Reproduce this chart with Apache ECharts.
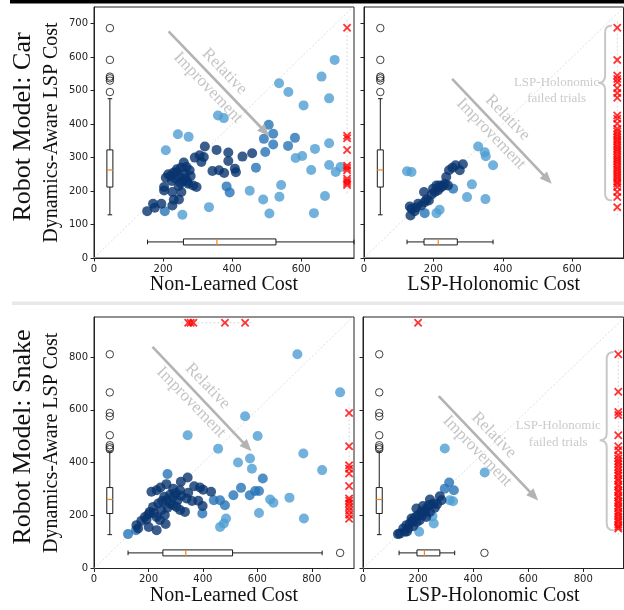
<!DOCTYPE html>
<html>
<head>
<meta charset="utf-8">
<script src="https://cdn.jsdelivr.net/npm/echarts@6/dist/echarts.min.js"></script>
<style>html,body{margin:0;padding:0;background:#fff}#main{width:624px;height:610px}</style>
</head>
<body>
<div id="main"></div>
<script>
// tick labels
const carYTicks = [0, 100, 200, 300, 400, 500, 600, 700];
const carXTicks = [0, 200, 400, 600];
const snakeTicks = [0, 200, 400, 600, 800];

// Car, x = non-learned cost, y = dynamics-aware LSP cost
const carNlDark = [[154,140],[171,162],[176,150],[195,162],[227,157],[231,174],[246,175],[227,197],[253,197],[203,202],[203,212],[208,240],[222,245],[230,255],[239,257],[248,242],[258,232],[268,272],[277,262],[263,252],[273,222],[287,217],[297,212],[292,300],[306,307],[318,302],[311,287],[321,333],[355,323],[343,260],[362,262],[377,254],[389,315],[389,290],[408,267],[411,256],[430,303],[458,313],[240,265],[252,270],[260,285],[235,238],[265,238],[280,245],[250,225],[245,215],[225,230],[215,250],[270,228]];
const carNlMid = [[205,140],[384,214],[393,196],[469,270],[492,356],[519,339],[496,317],[562,335],[582,359],[506,398],[519,371]];
const carNlLight = [[697,592],[659,542],[536,522],[563,496],[681,477],[607,456],[359,426],[376,418],[243,370],[274,362],[208,322],[584,299],[603,305],[640,326],[681,343],[629,263],[681,278],[714,272],[700,257],[542,218],[451,201],[490,175],[537,183],[669,185],[508,133],[637,134],[333,152],[256,129]];
const carNlFailed = [688, 365, 358, 323, 276, 269, 262, 237, 230, 224, 218];

// Car, x = LSP-holonomic cost
const carHoDark = [[134,127],[137,147],[146,140],[156,162],[165,157],[175,167],[187,172],[173,197],[199,207],[209,217],[218,217],[204,197],[213,202],[233,222],[242,217],[237,242],[245,262],[264,277],[276,262],[285,280],[132,154],[220,210],[228,215],[195,190],[180,175],[150,150],[255,270]];
const carHoMid = [[257,207],[175,134]];
const carHoLight = [[124,259],[137,257],[329,333],[348,316],[351,304],[372,277],[311,220],[297,182],[350,176],[209,134],[218,144]];
const carHoFailed = [688,592,545,535,525,507,493,479,426,416,401,386,378,370,362,355,348,340,332,325,318,310,302,295,288,280,272,265,258,250,243,236,228,222,212,197,182,152];

// box stats [low, q1, median, q3, high]
const carLspBox = [129, 212, 263, 323, 476];
const carLspOutliers = [687, 592, 542, 537, 530, 496];
const carNlBox = [155, 259, 356, 527, 753];
const carHoBox = [124, 173, 214, 269, 372];

// Snake, x = non-learned cost
const snakeNlDark = [[319,328],[344,344],[266,319],[244,306],[211,290],[230,296],[291,302],[316,296],[346,286],[368,311],[389,306],[401,298],[430,290],[383,256],[399,236],[334,214],[258,271],[266,258],[279,246],[291,271],[307,258],[303,233],[316,221],[236,246],[217,233],[205,214],[187,195],[248,221],[260,202],[230,195],[242,183],[193,185],[174,180],[156,164],[162,151],[201,157],[230,145],[263,168],[280,280],[300,285],[320,275],[340,265],[270,230],[290,240],[250,255],[220,210],[200,205],[360,255]];
const snakeNlMid = [[125,130],[154,145],[440,258],[463,258],[481,239],[398,208],[512,277],[540,305],[572,277],[592,293],[606,293],[620,340],[270,357]];
const snakeNlLight = [[747,810],[904,666],[555,576],[344,504],[601,501],[456,453],[573,416],[529,401],[580,377],[769,435],[838,372],[647,261],[659,249],[718,268],[771,189],[606,210],[463,157],[477,170],[485,189]];
const snakeNlFailedRight = [588, 462, 390, 377, 359, 312, 265, 256, 246, 232, 218, 203, 188];
const snakeNlFailedTop = [346, 355, 365, 481, 555];

// Snake, x = LSP-holonomic cost
const snakeHoDark = [[279,273],[285,258],[243,261],[255,246],[269,243],[218,236],[230,227],[212,214],[200,202],[188,193],[206,183],[176,189],[170,170],[182,160],[164,151],[158,164],[146,151],[152,139],[133,132],[127,130],[230,195],[243,214],[261,230],[194,227],[225,215],[215,200],[195,175],[240,240],[180,180],[160,140]];
const snakeHoMid = [[313,325],[330,296],[297,302]];
const snakeHoLight = [[297,454],[442,363],[315,258],[327,254],[252,198],[257,170],[204,139]];
const snakeHoFailedRight = [810,668,592,580,504,462,447,428,416,405,395,384,372,361,352,339,331,318,309,297,288,276,268,255,247,236,228,215,206,197,186,178,166,158,151];
const snakeHoFailedTop = [200];

const snakeLspBox = [128, 208, 261, 306, 441];
const snakeLspOutliers = [810, 666, 588, 575, 504, 466, 458, 451];
const snakeNlBox = [125, 253, 337, 509, 838];
const snakeNlOutliers = [904];
const snakeHoBox = [131, 196, 223, 279, 333];
const snakeHoOutliers = [441];

const SERIF = '"Liberation Serif", "DejaVu Serif", serif';
const SANS = '"DejaVu Sans", sans-serif';
const colDark = '#09346f', colMid = '#2573b6', colLight = '#4d9dd2';
const xSym = 'path://M0,1.5L1.5,0L5,3.5L8.5,0L10,1.5L6.5,5L10,8.5L8.5,10L5,6.5L1.5,10L0,8.5L3.5,5Z';

function boxSeries(g, horizontal, pos, stats) {
  return {
    type: 'custom', xAxisIndex: g, yAxisIndex: g, silent: true, z: 5,
    data: [[pos].concat(stats)],
    renderItem: function (params, api) {
      var p = api.value(0);
      var v = [1, 2, 3, 4, 5].map(function (k) { return api.value(k); });
      function at(val, off) {
        var c = horizontal ? api.coord([val, p]) : api.coord([p, val]);
        return horizontal ? [c[0], c[1] + off] : [c[0] + off, c[1]];
      }
      var bw = 3, cw = 2.3;
      var st = { stroke: '#1a1a1a', lineWidth: 1 };
      function seg(a, b, s) { return { type: 'line', shape: { x1: a[0], y1: a[1], x2: b[0], y2: b[1] }, style: s || st }; }
      return {
        type: 'group', children: [
          seg(at(v[0], 0), at(v[1], 0)),
          seg(at(v[3], 0), at(v[4], 0)),
          seg(at(v[0], -cw), at(v[0], cw)),
          seg(at(v[4], -cw), at(v[4], cw)),
          { type: 'polygon', shape: { points: [at(v[1], -bw), at(v[1], bw), at(v[3], bw), at(v[3], -bw)] }, style: { fill: '#fff', stroke: '#1a1a1a', lineWidth: 1 } },
          seg(at(v[2], -bw), at(v[2], bw), { stroke: '#ff7f0e', lineWidth: 1.2 })
        ]
      };
    }
  };
}

function outlierSeries(g, horizontal, pos, vals) {
  return {
    type: 'scatter', xAxisIndex: g, yAxisIndex: g, silent: true, z: 6, symbolSize: 7.5,
    itemStyle: { color: 'rgba(0,0,0,0)', borderColor: '#111', borderWidth: 1 },
    data: vals.map(function (v) { return horizontal ? [v, pos] : [pos, v]; })
  };
}

function pts(g, data, color) {
  return { type: 'scatter', xAxisIndex: g, yAxisIndex: g, silent: true, z: 3, symbolSize: 10, itemStyle: { color: color }, data: data };
}

function failSeries(g, vals, fixed, vertical) {
  var lo = Math.min.apply(null, vals) - 25, hi = Math.max.apply(null, vals) + 25;
  return [
    { type: 'line', xAxisIndex: g, yAxisIndex: g, silent: true, symbol: 'none', z: 2,
      lineStyle: { color: '#d0d0d0', width: 0.8, type: [2, 2] },
      data: vertical ? [[fixed, lo], [fixed, hi]] : [[lo, fixed], [hi, fixed]] },
    { type: 'scatter', xAxisIndex: g, yAxisIndex: g, silent: true, z: 7, symbol: xSym, symbolSize: 8.5,
      itemStyle: { color: '#ff0000' },
      data: vals.map(function (v) { return vertical ? [fixed, v] : [v, fixed]; }) }
  ];
}

function textSeries(g, at, text, size, lh, rot, color) {
  return { type: 'scatter', xAxisIndex: g, yAxisIndex: g, silent: true, z: 8, symbolSize: 0.1,
    itemStyle: { color: 'rgba(0,0,0,0)' }, data: [at],
    label: { show: true, position: 'inside', formatter: text, rotate: rot, fontFamily: SERIF,
      fontSize: size, lineHeight: lh, color: color, align: 'center', verticalAlign: 'middle' } };
}

function diagSeries(g, max, arrow) {
  return { type: 'line', xAxisIndex: g, yAxisIndex: g, silent: true, symbol: 'none', z: 1,
    lineStyle: { color: '#d6d6d6', width: 0.8, type: [2, 2] },
    data: [[0, 0], [max, max]],
    markLine: { silent: true, symbol: ['none', 'triangle'], symbolSize: [10, 12],
      label: { show: false }, lineStyle: { color: '#b3b3b3', width: 2.6, type: 'solid' },
      data: [[{ coord: arrow[0] }, { coord: arrow[1] }]] } };
}

function braceSeries(g, b) {
  return { type: 'custom', xAxisIndex: g, yAxisIndex: g, silent: true, z: 4, data: [b],
    renderItem: function (params, api) {
      var t = api.coord([api.value(0), api.value(1)]);
      var m = api.coord([api.value(0), api.value(2)]);
      var e = api.coord([api.value(0), api.value(3)]);
      var X = t[0], w = 7;
      var d = 'M' + (X + w) + ',' + t[1] + ' Q' + X + ',' + t[1] + ' ' + X + ',' + (t[1] + w) +
        ' L' + X + ',' + (m[1] - w) + ' Q' + X + ',' + m[1] + ' ' + (X - w) + ',' + m[1] +
        ' Q' + X + ',' + m[1] + ' ' + X + ',' + (m[1] + w) +
        ' L' + X + ',' + (e[1] - w) + ' Q' + X + ',' + e[1] + ' ' + (X + w) + ',' + e[1];
      return { type: 'path', shape: { pathData: d }, style: { fill: 'none', stroke: '#c8c8c8', lineWidth: 2 } };
    } };
}

function xAxis(g, max, ticks, name) {
  return { type: 'value', gridIndex: g, min: 0, max: max, name: name, nameLocation: 'middle', nameGap: 16,
    nameTextStyle: { fontFamily: SERIF, fontSize: 20, color: '#111' },
    axisLine: { show: true, onZero: false, lineStyle: { color: '#222', width: 1 } },
    axisTick: { show: true, length: 3.5, customValues: ticks, lineStyle: { color: '#222' } },
    axisLabel: { customValues: ticks, fontFamily: SANS, fontSize: 10, color: '#222', margin: 6 },
    splitLine: { show: false } };
}

function yAxis(g, max, ticks, name, labels) {
  return { type: 'value', gridIndex: g, min: 0, max: max, name: name, nameLocation: 'middle', nameGap: 32,
    nameTextStyle: { fontFamily: SERIF, fontSize: 20, color: '#111' },
    axisLine: { show: true, onZero: false, lineStyle: { color: '#222', width: 1 } },
    axisTick: { show: true, length: 3.5, customValues: ticks, lineStyle: { color: '#222' } },
    axisLabel: { show: labels, customValues: ticks, fontFamily: SANS, fontSize: 10, color: '#222', margin: 6 },
    splitLine: { show: false } };
}

var chart = echarts.init(document.getElementById('main'));
var relText = 'Relative\nImprovement';
var failText = 'LSP-Holonomic\nfailed trials';

var series = [].concat(
  // panel 0: car vs non-learned
  [diagSeries(0, 750, [[216, 677], [495, 378]]),
   pts(0, carNlLight, colLight), pts(0, carNlMid, colMid), pts(0, carNlDark, colDark),
   boxSeries(0, false, 46, carLspBox), outlierSeries(0, false, 46, carLspOutliers),
   boxSeries(0, true, 48, carNlBox),
   textSeries(0, [354, 533], relText, 17, 23, -46, '#b5b5b5')],
  failSeries(0, carNlFailed, 733, true),
  // panel 1: car vs holonomic
  [diagSeries(1, 748, [[254, 535], [529, 235]]),
   pts(1, carHoLight, colLight), pts(1, carHoMid, colMid), pts(1, carHoDark, colDark),
   boxSeries(1, false, 47, carLspBox), outlierSeries(1, false, 47, carLspOutliers),
   boxSeries(1, true, 48, carHoBox),
   textSeries(1, [390, 395], relText, 17, 23, -46, '#b5b5b5'),
   braceSeries(1, [695, 695, 524, 172]),
   textSeries(1, [555, 500], failText, 13, 16.5, 0, '#bdbdbd')],
  failSeries(1, carHoFailed, 730, true),
  // panel 2: snake vs non-learned
  [diagSeries(2, 951, [[215, 838], [563, 460]]),
   pts(2, snakeNlLight, colLight), pts(2, snakeNlMid, colMid), pts(2, snakeNlDark, colDark),
   boxSeries(2, false, 58, snakeLspBox), outlierSeries(2, false, 58, snakeLspOutliers),
   boxSeries(2, true, 59, snakeNlBox), outlierSeries(2, true, 59, snakeNlOutliers),
   textSeries(2, [387, 659], relText, 17, 23, -46, '#b5b5b5')],
  failSeries(2, snakeNlFailedRight, 937, true),
  failSeries(2, snakeNlFailedTop, 929, false),
  // panel 3: snake vs holonomic
  [diagSeries(3, 946, [[275, 652], [621, 274]]),
   pts(3, snakeHoLight, colLight), pts(3, snakeHoMid, colMid), pts(3, snakeHoDark, colDark),
   boxSeries(3, false, 59, snakeLspBox), outlierSeries(3, false, 59, snakeLspOutliers),
   boxSeries(3, true, 59, snakeHoBox), outlierSeries(3, true, 59, snakeHoOutliers),
   textSeries(3, [445, 474], relText, 17, 23, -46, '#b5b5b5'),
   braceSeries(3, [885, 819, 485, 145]),
   textSeries(3, [709, 508], failText, 13, 16.5, 0, '#bdbdbd')],
  failSeries(3, snakeHoFailedRight, 927, true),
  failSeries(3, snakeHoFailedTop, 929, false)
);

var option = {
  animation: false,
  backgroundColor: '#fff',
  grid: [
    { left: 94, top: 7, width: 260, height: 251, show: true, borderColor: '#222', borderWidth: 1, containLabel: false },
    { left: 364, top: 7, width: 259.5, height: 251, show: true, borderColor: '#222', borderWidth: 1, containLabel: false },
    { left: 94, top: 317, width: 260, height: 251.5, show: true, borderColor: '#222', borderWidth: 1, containLabel: false },
    { left: 363, top: 317, width: 260.5, height: 251.5, show: true, borderColor: '#222', borderWidth: 1, containLabel: false }
  ],
  xAxis: [
    xAxis(0, 753, carXTicks, 'Non-Learned Cost'),
    xAxis(1, 748, carXTicks, 'LSP-Holonomic Cost'),
    xAxis(2, 955, snakeTicks, 'Non-Learned Cost'),
    xAxis(3, 946, snakeTicks, 'LSP-Holonomic Cost')
  ],
  yAxis: [
    yAxis(0, 750, carYTicks, 'Dynamics-Aware LSP Cost', true),
    yAxis(1, 750, carYTicks, '', false),
    yAxis(2, 951, snakeTicks, 'Dynamics-Aware LSP Cost', true),
    yAxis(3, 951, snakeTicks, '', false)
  ],
  graphic: [
    { type: 'rect', shape: { x: 10, y: 0, width: 614, height: 3.5 }, style: { fill: '#000' } },
    { type: 'rect', shape: { x: 12, y: 301.5, width: 612, height: 3.5 }, style: { fill: '#e8e8e8' } },
    { type: 'text', x: 23, y: 127, rotation: Math.PI / 2,
      style: { text: 'Robot Model: Car', font: '26px ' + SERIF, fill: '#111', align: 'center', verticalAlign: 'middle' } },
    { type: 'text', x: 23, y: 437, rotation: Math.PI / 2,
      style: { text: 'Robot Model: Snake', font: '26px ' + SERIF, fill: '#111', align: 'center', verticalAlign: 'middle' } }
  ],
  series: series
};

chart.setOption(option);
</script>
</body>
</html>
